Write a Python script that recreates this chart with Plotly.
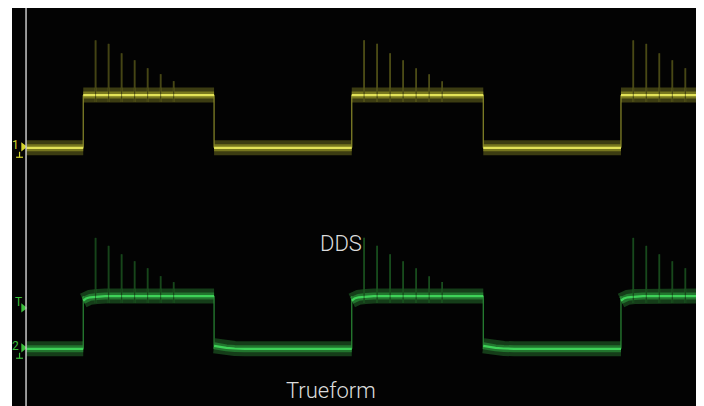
import plotly.graph_objects as go

# ---- data (time in divisions, 10 across; amplitude in divisions, 8 tall) ----
rise_times = [1.04, 4.96, 8.89]
fall_times = [2.95, 6.88]
spike_offsets = [0.18, 0.37, 0.56, 0.75, 0.94, 1.13, 1.32]

ch1_low, ch1_high = 5.19, 6.25
ch1_spikes = [1.10, 1.03, 0.84, 0.70, 0.54, 0.42, 0.28]

ch2_low, ch2_high = 1.15, 2.21
ch2_spikes = [1.17, 1.01, 0.84, 0.70, 0.56, 0.40, 0.28]

ch2_rise_settle_t = [0.0, 0.04, 0.10, 0.20, 0.32]
ch2_rise_settle_dv = [-0.09, -0.05, -0.025, -0.01, 0.0]
ch2_fall_settle_t = [0.0, 0.08, 0.18, 0.30, 0.45]
ch2_fall_settle_dv = [0.06, 0.035, 0.018, 0.006, 0.0]

trigger_level = 1.97
cursor_t = 0.205
t_start, t_end = 0.0, 10.0
labels = ["DDS", "Trueform"]


def segments(low, high, rise_settle=None, fall_settle=None):
    edges = sorted([(t, "r") for t in rise_times] + [(t, "f") for t in fall_times])
    xs, ys = [], []
    level = low
    t0 = cursor_t
    settle = None
    bounds = edges + [(t_end, None)]
    for t1, kind in bounds:
        if settle:
            for ti, dv in zip(*settle):
                if t0 + ti < t1:
                    xs.append(t0 + ti)
                    ys.append(level + dv)
            xs.append(t1)
            ys.append(level)
        else:
            xs += [t0, t1]
            ys += [level, level]
        xs.append(None)
        ys.append(None)
        if kind == "r":
            level, settle = high, rise_settle
        elif kind == "f":
            level, settle = low, fall_settle
        t0 = t1
    ex, ey = [], []
    for t, _ in edges:
        ex += [t, t, None]
        ey += [low, high, None]
    return xs, ys, ex, ey


def spike_lines(high, heights, band):
    sx, sy = [], []
    for r in rise_times:
        for off, h in zip(spike_offsets, heights):
            t = r + off
            if t < t_end:
                sx += [t, t, None]
                sy += [high - band, high + h, None]
    return sx, sy


fig = go.Figure()

channels = [
    dict(low=ch1_low, high=ch1_high, spikes=ch1_spikes, rs=None, fs=None,
         outer="#3c3c12", inner="#77771f", center="#e2e258", edge="#8a8a2a", spike="#6e6e20"),
    dict(low=ch2_low, high=ch2_high, spikes=ch2_spikes,
         rs=(ch2_rise_settle_t, ch2_rise_settle_dv), fs=(ch2_fall_settle_t, ch2_fall_settle_dv),
         outer="#153d19", inner="#22752e", center="#3ed258", edge="#2a8a36", spike="#1f6e2a"),
]

for ch in channels:
    xs, ys, ex, ey = segments(ch["low"], ch["high"], ch["rs"], ch["fs"])
    fig.add_trace(go.Scatter(x=xs, y=ys, mode="lines", line=dict(color=ch["outer"], width=15),
                             hoverinfo="skip", showlegend=False))
    fig.add_trace(go.Scatter(x=xs, y=ys, mode="lines", line=dict(color=ch["inner"], width=7),
                             hoverinfo="skip", showlegend=False))
    fig.add_trace(go.Scatter(x=ex, y=ey, mode="lines", line=dict(color=ch["edge"], width=1.2),
                             hoverinfo="skip", showlegend=False))
    sx, sy = spike_lines(ch["high"], ch["spikes"], 0.14)
    fig.add_trace(go.Scatter(x=sx, y=sy, mode="lines", line=dict(color=ch["spike"], width=1.6),
                             hoverinfo="skip", showlegend=False))
    fig.add_trace(go.Scatter(x=xs, y=ys, mode="lines", line=dict(color=ch["center"], width=2.2),
                             hoverinfo="skip", showlegend=False))
    # thin dark core on the spikes cuts the bright centre line
    fig.add_trace(go.Scatter(x=sx, y=sy, mode="lines", line=dict(color="#101008", width=0.8),
                             opacity=0.6, hoverinfo="skip", showlegend=False))

# channel / trigger indicators
yellow, green = "#d6d62e", "#3cbf3c"
mk_x = 0.165
fig.add_trace(go.Scatter(x=[mk_x, mk_x, mk_x], y=[ch1_low + 0.02, ch2_low + 0.02, trigger_level],
                         mode="markers",
                         marker=dict(symbol="triangle-right", size=8, color=[yellow, green, green]),
                         hoverinfo="skip", showlegend=False))

annotations = [
    dict(x=0.05, y=ch1_low + 0.05, text="1", font=dict(color=yellow, size=12, family="Roboto")),
    dict(x=0.05, y=ch2_low + 0.05, text="2", font=dict(color=green, size=12, family="Roboto")),
    dict(x=0.10, y=trigger_level + 0.13, text="T", font=dict(color=green, size=12, family="Roboto")),
    dict(x=4.80, y=3.26, text=labels[0], font=dict(color="#dcdcdc", size=22, family="Roboto", weight=300)),
    dict(x=4.66, y=0.31, text=labels[1], font=dict(color="#dcdcdc", size=22, family="Roboto", weight=300)),
]
for a in annotations:
    a.update(xref="x", yref="y", showarrow=False)

shapes = []
for lvl, col in [(ch1_low, yellow), (ch2_low, green)]:
    shapes.append(dict(type="line", xref="x", yref="y", x0=0.11, x1=0.11, y0=lvl - 0.08, y1=lvl - 0.19,
                       line=dict(color=col, width=1.2)))
    shapes.append(dict(type="line", xref="x", yref="y", x0=0.06, x1=0.16, y0=lvl - 0.19, y1=lvl - 0.19,
                       line=dict(color=col, width=1.2)))
# white cursor line and right frame edge
shapes.append(dict(type="line", xref="x", yref="paper", x0=cursor_t, x1=cursor_t, y0=0, y1=1,
                   line=dict(color="#c8c8c8", width=1.5)))
shapes.append(dict(type="line", xref="paper", yref="paper", x0=1.002, x1=1.002, y0=0, y1=1,
                   line=dict(color="#a8c2de", width=2)))

# the page adds an 8px body margin, so the figure is sized to fit the 704x406 window
fig.update_layout(
    width=696, height=398,
    margin=dict(l=4, r=7, t=0, b=0),
    paper_bgcolor="white", plot_bgcolor="#030303",
    xaxis=dict(range=[t_start, t_end], visible=False, showgrid=False, zeroline=False, fixedrange=True),
    yaxis=dict(range=[0, 8], visible=False, showgrid=False, zeroline=False, fixedrange=True),
    annotations=annotations, shapes=shapes, showlegend=False,
)

fig.write_html("out.html")
